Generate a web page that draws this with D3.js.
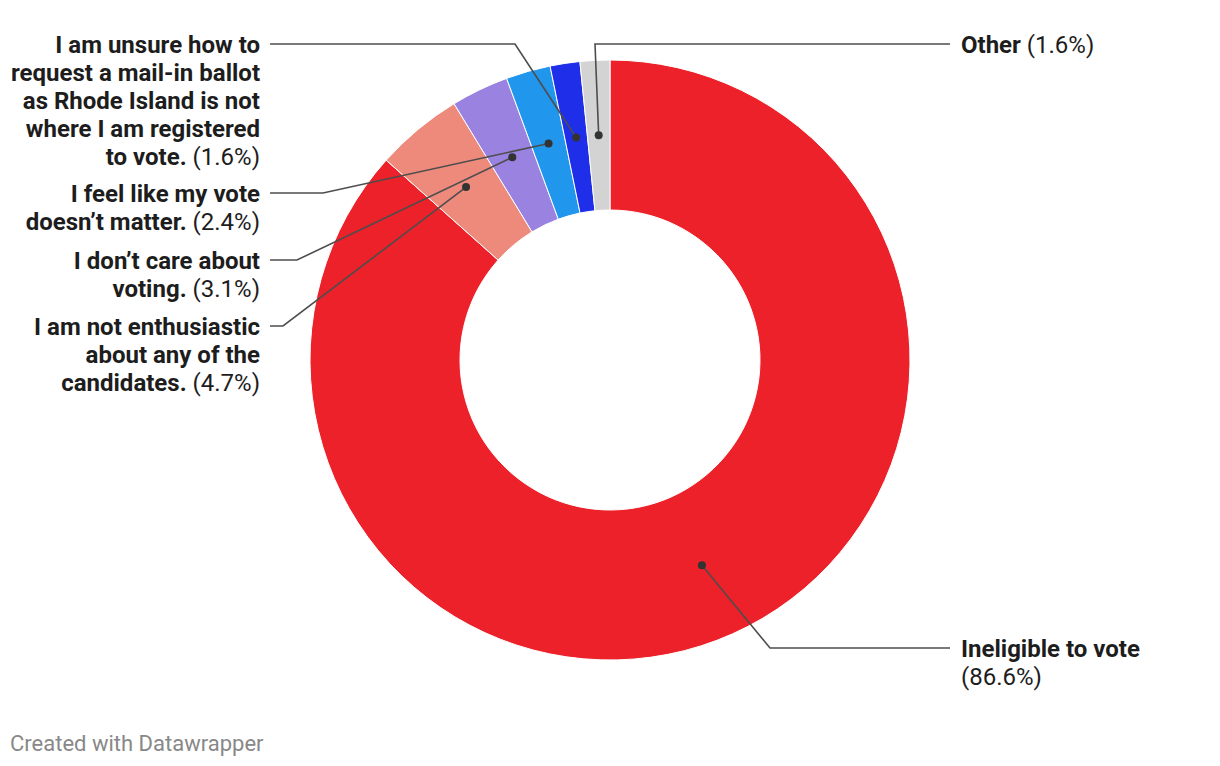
<!DOCTYPE html>
<html><head><meta charset="utf-8">
<script src="https://cdn.jsdelivr.net/npm/d3@7"></script>
<style>
body{margin:0;background:#fff;}
svg{display:block;font-family:Roboto,"Noto Sans",sans-serif;}
</style></head><body>
<svg id="c" width="1220" height="766"></svg>
<script>
// Data
const categories = [
  "Ineligible to vote",
  "I am not enthusiastic about any of the candidates.",
  "I don’t care about voting.",
  "I feel like my vote doesn’t matter.",
  "I am unsure how to request a mail-in ballot as Rhode Island is not where I am registered to vote.",
  "Other"
];
const values = [86.6, 4.7, 3.1, 2.4, 1.6, 1.6];
const valueLabels = ["(86.6%)", "(4.7%)", "(3.1%)", "(2.4%)", "(1.6%)", "(1.6%)"];
const labelLines = [
  ["Ineligible to vote"],
  ["I am not enthusiastic", "about any of the", "candidates."],
  ["I don’t care about", "voting."],
  ["I feel like my vote", "doesn’t matter."],
  ["I am unsure how to", "request a mail-in ballot", "as Rhode Island is not", "where I am registered", "to vote."],
  ["Other"]
];
const colors = ["#ec2129", "#ee8a7b", "#9a82e1", "#2196ed", "#1f2ee8", "#d3d3d3"];

// Layout (positions only)
const cx = 610, cy = 360, R = 300, r = 150, rDot = 225;
const layout = [
  {side:"right", y:648, elbowX:770, percentNewLine:true},
  {side:"left", y:326, elbowX:283},
  {side:"left", y:260, elbowX:297},
  {side:"left", y:193, elbowX:323},
  {side:"left", y:44, elbowX:515},
  {side:"right", y:44, elbowX:595}
];
const lineH = 28;

const svg = d3.select("#c");
const g = svg.append("g").attr("transform", `translate(${cx},${cy})`);

const pie = d3.pie().sort(null).value(d => d)(values);
const arc = d3.arc().innerRadius(r).outerRadius(R);
const dotArc = d3.arc().innerRadius(rDot).outerRadius(rDot);

g.selectAll("path.slice").data(pie).join("path")
  .attr("class","slice")
  .attr("d", arc)
  .attr("fill", (d,i) => colors[i])
  .attr("stroke", "#fff")
  .attr("stroke-width", 1);

// leader lines
const lg = svg.append("g");
pie.forEach((d,i) => {
  const c = dotArc.centroid(d);
  const px = cx + c[0], py = cy + c[1];
  const L = layout[i];
  const endX = L.side === "left" ? 270 : 950;
  lg.append("polyline")
    .attr("points", `${px},${py} ${L.elbowX},${L.y} ${endX},${L.y}`)
    .attr("fill","none").attr("stroke","#4d4d4d").attr("stroke-width",1.6);
  lg.append("circle").attr("cx",px).attr("cy",py).attr("r",4).attr("fill","#333");
});

// labels
const tg = svg.append("g").attr("font-size", 24).attr("fill", "#1d1d1d");
labelLines.forEach((lines,i) => {
  const L = layout[i];
  const x = L.side === "left" ? 260 : 961;
  const t = tg.append("text")
    .attr("text-anchor", L.side === "left" ? "end" : "start");
  lines.forEach((ln,j) => {
    const tl = t.append("tspan").attr("x", x).attr("y", L.y + j*lineH).attr("dy","0.36em");
    tl.append("tspan").attr("font-weight", 700).text(ln);
    if (j === lines.length-1 && !L.percentNewLine) {
      tl.append("tspan").attr("font-weight", 400).text(" " + valueLabels[i]);
    }
  });
  if (L.percentNewLine) {
    t.append("tspan").attr("x", x).attr("y", L.y + lines.length*lineH).attr("dy","0.36em")
      .attr("font-weight",400).text(valueLabels[i]);
  }
});

svg.append("text").attr("x", 10).attr("y", 743).attr("dy","0.36em")
  .attr("font-size", 22).attr("fill", "#888").text("Created with Datawrapper");
</script>
</body></html>
